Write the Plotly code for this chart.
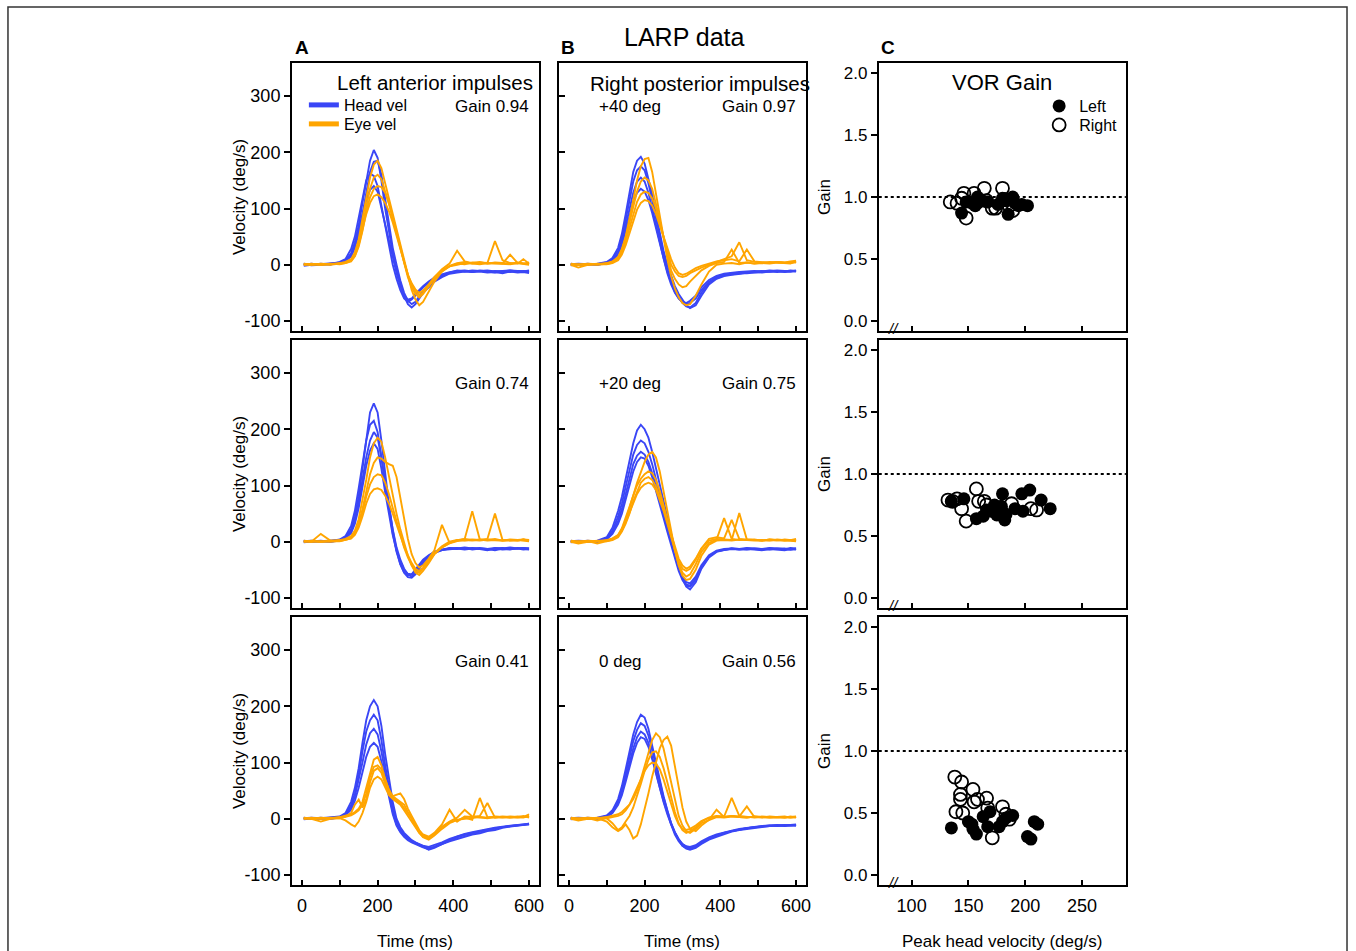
import plotly.graph_objects as go

# ---------------- data ----------------
TIME_MS = [5, 25, 50, 75, 100, 115, 130, 140, 150, 160, 170, 180, 190, 200, 210,
           220, 230, 240, 250, 260, 270, 280, 290, 300, 310, 320, 335, 350, 370, 390,
           410, 430, 450, 470, 490, 510, 530, 550, 570, 585, 600]

# Row 1 (Left anterior / Right posterior +40 deg)
A1_HEAD = [
    [2,0,1,2,4, 8,20,40,70,110, 150,185,204,190,150, 100,60,20,-10,-35, -55,-70,-76,-70,-60, -50,-40,-30,-22,-16, -14,-12,-13,-12,-14, -13,-15,-12,-14,-13, -15],
    [0,2,0,1,3, 6,15,30,55,90, 130,165,183,185,160, 115,70,30,0,-28, -50,-64,-70,-66,-56, -46,-36,-27,-20,-15, -12,-11,-13,-10,-12, -14,-12,-13,-11,-12, -13],
    [-2,0,2,0,5, 10,28,50,85,120, 150,162,158,140,105, 65,30,0,-25,-45, -60,-66,-62,-55,-47, -40,-32,-24,-18,-14, -10,-12,-10,-11,-13, -11,-12,-10,-12,-11, -12],
    [1,-1,0,2,3, 7,18,35,60,90, 115,133,140,130,100, 70,40,10,-15,-38, -55,-62,-60,-52,-45, -38,-30,-23,-17,-13, -11,-10,-12,-11,-10, -12,-11,-10,-11,-12, -10],
]
A1_EYE = [
    [1,0,2,1,3, 5,10,22,45,80, 120,155,178,185,172, 145,118,90,60,35, 8,-20,-45,-62,-72, -66,-48,-30,-12,-3, 0,3,2,1,3, 2,2,1,3,2, 0],
    [0,2,0,1,2, 4,8,18,38,70, 105,135,155,160,152, 132,108,82,55,28, 2,-22,-40,-52,-58, -52,-38,-22,-8,2, 25,6,3,5,2, 4,3,2,4,2, 1],
    [2,0,1,0,2, 3,6,15,32,60, 95,120,135,140,138, 128,110,85,60,32, 5,-18,-35,-48,-54, -50,-38,-25,-12,-2, 3,5,2,4,3, 42,8,3,2,10, 2],
    [0,1,0,2,1, 3,7,16,35,62, 90,110,122,125,120, 110,95,75,52,28, 3,-18,-33,-44,-50, -46,-35,-22,-10,-3, 2,1,4,3,2, 3,2,18,3,2, 4],
]
B1_HEAD = [
    [2,0,1,2,5, 12,30,55,90,130, 165,185,192,180,155, 125,90,55,25,0, -20,-38,-52,-63,-72, -77,-72,-55,-35,-25, -20,-18,-16,-15,-14, -13,-12,-13,-12,-11, -12],
    [0,1,0,1,4, 10,25,48,80,115, 148,168,175,168,145, 115,82,48,18,-8, -28,-45,-58,-68,-74, -76,-68,-50,-32,-24, -19,-17,-15,-14,-13, -14,-12,-11,-13,-12, -11],
    [-1,0,2,0,3, 8,20,40,68,100, 128,148,155,148,128, 100,70,40,12,-12, -32,-48,-60,-67,-70, -68,-60,-45,-30,-22, -18,-15,-14,-13,-12, -11,-12,-10,-11,-12, -10],
    [1,2,1,0,3, 7,18,35,60,88, 112,128,135,130,115, 92,65,38,10,-15, -35,-50,-60,-66,-68, -64,-55,-40,-27,-20, -16,-14,-13,-12,-11, -12,-10,-11,-12,-10, -11],
]
B1_EYE = [
    [1,0,2,1,3, 6,14,28,50,80, 115,150,175,188,190, 165,125,85,45,10, -20,-42,-58,-68,-72, -70,-55,-35,-12,0, 2,3,1,4,2, 3,2,4,3,5, 4],
    [0,-5,0,1,2, 5,12,26,48,75, 105,130,148,155,150, 135,108,78,45,15, -10,-25,-35,-40,-38, -30,-20,-10,-2,3, 5,27,3,4,2, 3,5,4,3,2, 6],
    [2,0,1,0,1, 4,10,22,42,66, 92,112,125,130,128, 118,100,75,48,22, 0,-12,-20,-22,-20, -15,-10,-5,0,5, 10,15,40,8,5, 4,3,5,4,3, 5],
    [0,1,0,2,1, 3,8,18,35,55, 78,98,110,115,113, 105,90,70,48,28, 10,-5,-15,-18,-16, -12,-6,-2,2,6, 8,10,6,27,6, 4,3,5,4,6, 7],
]

# Row 2 (Left anterior / Right posterior +20 deg)
A2_HEAD = [
    [2,0,1,2,3, 8,22,45,80,130, 185,230,246,230,180, 120,65,20,-15,-40, -55,-63,-64,-58,-48, -38,-28,-20,-15,-13, -12,-14,-12,-13,-15, -12,-14,-13,-12,-14, -13],
    [0,1,0,1,4, 10,28,55,95,140, 180,208,215,195,150, 100,55,15,-18,-40, -54,-60,-58,-50,-40, -32,-24,-18,-14,-12, -13,-11,-14,-12,-13, -15,-12,-14,-11,-13, -14],
    [-1,0,2,0,3, 7,18,38,70,110, 150,180,195,185,150, 105,60,22,-10,-32, -48,-58,-62,-56,-46, -36,-26,-19,-15,-12, -11,-13,-11,-12,-14, -12,-11,-13,-12,-11, -12],
    [1,2,1,0,2, 6,15,32,60,95, 135,162,175,165,130, 88,48,12,-15,-35, -50,-57,-58,-52,-43, -34,-25,-18,-14,-11, -12,-10,-12,-11,-13, -11,-12,-10,-12,-11, -12],
]
A2_EYE = [
    [1,0,14,2,3, 5,10,20,40,72, 110,150,175,185,178, 150,115,80,50,22, -2,-25,-42,-55,-59, -52,-38,-22,-10,-3, 1,3,2,4,2, 3,2,4,3,2, 1],
    [0,2,0,1,2, 4,8,16,32,58, 90,120,140,150,148, 142,138,135,115,78, 38,5,-22,-38,-46, -42,-30,-15,30,-2, 2,5,3,2,4, 3,2,3,2,4, 2],
    [2,0,1,0,1, 3,6,14,30,52, 80,102,115,120,118, 105,85,60,35,12, -10,-28,-42,-52,-55, -48,-35,-22,-10,-2, 3,5,54,4,3, 5,2,3,2,4, 3],
    [0,1,0,2,1, 3,6,12,25,45, 68,85,93,95,92, 82,68,50,30,10, -8,-24,-38,-48,-52, -46,-34,-20,-8,0, 3,2,4,3,5, 50,3,2,3,4, 2],
]
B2_HEAD = [
    [2,0,1,2,8, 25,55,80,112,145, 175,198,208,200,185, 160,130,100,70,40, 15,-15,-42,-65,-80, -85,-72,-48,-28,-18, -15,-13,-14,-13,-14, -15,-13,-14,-15,-13, -14],
    [0,1,0,1,6, 20,45,68,98,128, 155,172,180,175,160, 138,110,82,55,30, 5,-20,-45,-65,-76, -78,-66,-45,-26,-17, -14,-12,-13,-14,-12, -13,-14,-12,-13,-14, -12],
    [-1,0,2,0,5, 16,38,58,85,112, 138,153,160,155,142, 122,98,72,48,25, 2,-22,-45,-62,-72, -74,-62,-42,-24,-16, -13,-12,-13,-11,-12, -13,-11,-12,-13,-11, -12],
    [1,2,1,0,4, 14,32,50,75,100, 125,142,150,148,135, 115,92,68,42,18, -5,-30,-52,-68,-78, -80,-68,-46,-26,-17, -14,-12,-14,-12,-13, -14,-12,-13,-12,-14, -13],
]
B2_EYE = [
    [1,0,2,1,3, 6,12,22,38,58, 82,105,125,142,155, 160,150,125,90,55, 20,-15,-42,-60,-68, -66,-50,-25,-5,2, 3,2,4,3,2, 3,2,4,3,2, 1],
    [0,-3,0,1,2, 5,12,24,42,62, 82,100,112,120,125, 122,110,90,65,38, 10,-18,-40,-55,-62, -58,-40,-18,-2,4, 42,5,3,4,3, 2,4,3,2,3, 2],
    [2,0,1,-3,1, 4,10,20,35,52, 70,85,96,102,105, 102,92,75,55,32, 8,-15,-35,-48,-52, -48,-32,-12,5,8, 6,39,5,3,4, 2,3,2,4,3, 2],
    [0,1,0,2,1, 3,8,18,32,50, 72,90,105,112,115, 110,98,80,58,35, 12,-12,-30,-42,-48, -44,-30,-12,2,5, 4,3,51,4,3, 2,4,3,2,3, 5],
]

# Row 3 (Left anterior / Right posterior 0 deg)
A3_HEAD = [
    [2,0,1,2,4, 10,30,55,90,135, 175,200,211,200,165, 115,70,30,0,-15, -25,-32,-38,-42,-46, -50,-55,-52,-45,-40, -36,-32,-28,-26,-22, -20,-16,-14,-12,-11, -10],
    [0,1,0,1,3, 8,24,45,78,120, 155,175,185,175,140, 95,55,20,-5,-18, -28,-35,-40,-44,-47, -50,-52,-50,-45,-38, -32,-28,-25,-22,-19, -17,-15,-13,-11,-10, -9],
    [-1,0,2,0,3, 7,20,40,68,100, 132,152,160,150,120, 80,45,12,-10,-22, -30,-36,-40,-43,-46, -48,-50,-47,-42,-36, -31,-27,-24,-21,-18, -16,-14,-12,-11,-10, -9],
    [1,2,1,0,2, 6,16,32,55,85, 110,128,135,128,102, 70,38,8,-12,-24, -32,-38,-42,-45,-48, -51,-54,-50,-44,-38, -33,-29,-26,-23,-20, -17,-15,-13,-12,-10, -10],
]
A3_EYE = [
    [1,0,2,1,3, 5,8,12,18,30, 55,85,105,110,95, 70,50,38,32,28, 20,10,0,-12,-25, -33,-37,-30,-18,-8, -2,0,2,3,2, 4,3,2,3,2, 5],
    [0,2,0,1,2, 4,10,25,34,20, 35,65,85,90,82, 62,45,40,42,45, 35,18,5,-8,-20, -28,-32,-25,-10,16, -5,4,3,5,28, 2,3,2,4,3, 8],
    [2,0,-5,0,1, -3,-10,-14,-5,10, 30,55,70,75,70, 55,42,35,30,25, 15,5,-5,-15,-25, -32,-35,-28,-15,-6, -3,2,-2,37,3, 2,4,3,2,3, 4],
    [0,1,0,2,1, 3,6,10,15,25, 45,75,92,95,88, 70,52,40,35,30, 25,12,2,-10,-22, -30,-34,-28,-14,-5, 2,16,4,2,1, 3,2,4,3,5, 2],
]
B3_HEAD = [
    [2,0,1,2,6, 15,35,58,88,120, 150,172,185,180,160, 130,98,68,40,15, -8,-25,-38,-48,-53, -55,-52,-45,-37,-32, -27,-23,-20,-18,-16, -14,-13,-12,-13,-12, -12],
    [0,1,0,1,5, 13,32,52,80,110, 138,158,170,165,148, 122,92,64,38,14, -8,-24,-36,-45,-50, -52,-49,-42,-35,-30, -25,-22,-19,-17,-15, -14,-12,-13,-12,-11, -12],
    [-1,0,2,0,4, 11,28,46,72,100, 125,145,155,150,135, 110,82,56,32,10, -10,-25,-37,-45,-49, -50,-47,-40,-33,-28, -24,-21,-18,-16,-15, -13,-12,-11,-12,-11, -10],
    [1,2,1,0,3, 10,25,42,66,92, 116,135,145,142,128, 106,80,55,30,8, -12,-28,-40,-48,-52, -54,-50,-42,-35,-30, -25,-22,-19,-17,-15, -14,-13,-12,-11,-12, -11],
]
B3_EYE = [
    [1,0,2,1,3, 5,8,12,18,25, 35,50,70,95,120, 140,152,145,125,95, 60,30,5,-12,-22, -25,-18,-8,-2,3, 2,4,3,2,4, 3,2,3,4,2, 3],
    [0,-3,0,1,-5, -15,-22,-18,-10,-20, -35,-30,-10,15,45, 75,100,125,140,146, 130,95,55,20,-5, -18,-22,-12,-2,16, 3,5,3,2,4, 3,2,3,2,4, 2],
    [2,0,1,-3,1, -8,-20,-15,-5,5, 20,40,62,85,105, 118,120,110,90,65, 38,12,-8,-20,-25, -22,-15,-5,2,5, 4,37,5,3,2, 4,3,2,3,2, 3],
    [0,1,0,2,1, 3,5,8,15,25, 40,55,70,85,95, 100,98,88,70,48, 25,5,-10,-18,-20, -18,-12,-4,2,4, 3,5,4,22,3, 2,4,3,2,3, 4],
]

# VOR gain vs peak head velocity (panel C)
C1_LEFT_X = [144, 148, 153, 156, 158, 162, 167, 176, 180, 183, 185, 189, 191, 194, 197, 202]
C1_LEFT_Y = [0.87, 0.96, 0.95, 0.93, 1.00, 0.97, 0.96, 0.94, 0.99, 0.97, 0.86, 1.00, 0.95, 0.93, 0.94, 0.93]
C1_RIGHT_X = [134, 140, 144, 146, 148, 155, 158, 164, 166, 171, 174, 180, 182, 186, 189]
C1_RIGHT_Y = [0.96, 0.95, 0.99, 1.03, 0.83, 1.03, 0.96, 1.07, 0.97, 0.91, 0.91, 1.07, 0.98, 0.93, 0.89]

C2_LEFT_X = [135, 146, 157, 163, 166, 170, 173, 175, 179, 180, 182, 183, 191, 197, 198, 204, 214, 222]
C2_LEFT_Y = [0.78, 0.80, 0.64, 0.66, 0.71, 0.70, 0.75, 0.67, 0.74, 0.84, 0.63, 0.67, 0.72, 0.84, 0.70, 0.87, 0.79, 0.72]
C2_RIGHT_X = [132, 136, 140, 144, 148, 157, 159, 164, 166, 188, 205, 210]
C2_RIGHT_Y = [0.79, 0.78, 0.80, 0.72, 0.62, 0.88, 0.78, 0.78, 0.75, 0.76, 0.72, 0.71]

C3_LEFT_X = [135, 150, 153, 154, 157, 163, 167, 169, 177, 180, 183, 189, 202, 205, 208, 211]
C3_LEFT_Y = [0.38, 0.43, 0.41, 0.37, 0.33, 0.47, 0.39, 0.51, 0.39, 0.43, 0.46, 0.48, 0.31, 0.29, 0.43, 0.41]
C3_RIGHT_X = [138, 139, 143, 143, 144, 145, 154, 155, 158, 166, 167, 171, 180, 183, 186]
C3_RIGHT_Y = [0.79, 0.51, 0.65, 0.61, 0.75, 0.50, 0.69, 0.59, 0.61, 0.62, 0.54, 0.30, 0.55, 0.49, 0.45]

UNITY_GAIN = 1.0

# text / ticks
FIG_TITLE = "LARP data"
PANEL_LETTERS = ["A", "B", "C"]
TITLE_A = "Left anterior impulses"
TITLE_B = "Right posterior impulses"
TITLE_C = "VOR Gain"
GAIN_A = ["Gain 0.94", "Gain 0.74", "Gain 0.41"]
GAIN_B = ["Gain 0.97", "Gain 0.75", "Gain 0.56"]
PITCH_B = ["+40 deg", "+20 deg", "0 deg"]
TIME_TICKS = [0, 100, 200, 300, 400, 500, 600]
TIME_TICK_TEXT = ["0", "", "200", "", "400", "", "600"]
VEL_TICKS = [-100, 0, 100, 200, 300]
VEL_TICK_TEXT = ["-100", "0", "100", "200", "300"]
GAIN_TICKS = [0, 0.5, 1.0, 1.5, 2.0]
GAIN_TICK_TEXT = ["0.0", "0.5", "1.0", "1.5", "2.0"]
PEAK_TICKS = [100, 150, 200, 250]

# ---------------- styling / layout ----------------
W, H = 1356, 951
FONT = "Liberation Sans, Arial, Helvetica, sans-serif"
BLUE = "#3a46f6"
ORANGE = "#ffa500"


def fx(p):
    return p / W


def fy(p):
    return 1 - p / H


COL_PX = [(293, 541), (561, 809), (882, 1130)]
ROW_PX = [(63, 331), (340, 608), (617, 885)]

HEAD = [[A1_HEAD, B1_HEAD], [A2_HEAD, B2_HEAD], [A3_HEAD, B3_HEAD]]
EYE = [[A1_EYE, B1_EYE], [A2_EYE, B2_EYE], [A3_EYE, B3_EYE]]
SCAT = [(C1_LEFT_X, C1_LEFT_Y, C1_RIGHT_X, C1_RIGHT_Y),
        (C2_LEFT_X, C2_LEFT_Y, C2_RIGHT_X, C2_RIGHT_Y),
        (C3_LEFT_X, C3_LEFT_Y, C3_RIGHT_X, C3_RIGHT_Y)]

fig = go.Figure()
layout = dict(
    width=W, height=H, margin=dict(l=0, r=0, t=0, b=0),
    paper_bgcolor="white", plot_bgcolor="white",
    font=dict(family=FONT, color="black", size=18),
    showlegend=True,
)
shapes = []
annotations = []


def names(r, c):
    n = r * 3 + c + 1
    if n == 1:
        return "x", "y", "xaxis", "yaxis"
    return f"x{n}", f"y{n}", f"xaxis{n}", f"yaxis{n}"


for r in range(3):
    for c in range(3):
        xn, yn, xk, yk = names(r, c)
        base = dict(showline=True, mirror=True, linecolor="black", linewidth=1.8,
                    showgrid=False, zeroline=False, ticklen=5, tickwidth=1.5,
                    tickcolor="black", tickfont=dict(size=18, family=FONT))
        xa = dict(base, domain=[fx(COL_PX[c][0]), fx(COL_PX[c][1])], anchor=yn,
                  ticks="inside", showticklabels=(r == 2), ticklabelstandoff=3)
        ya = dict(base, domain=[fy(ROW_PX[r][1]), fy(ROW_PX[r][0])], anchor=xn)
        if c < 2:
            xa.update(range=[-26.3, 626.3], tickmode="array", tickvals=TIME_TICKS,
                      ticktext=TIME_TICK_TEXT)
            ya.update(range=[-117.8, 358.7], tickmode="array", tickvals=VEL_TICKS,
                      ticktext=VEL_TICK_TEXT, ticklen=6)
            if c == 0:
                ya.update(ticks="outside", showticklabels=True)
            else:
                ya.update(ticks="inside", showticklabels=False)
            for tr in HEAD[r][c]:
                fig.add_trace(go.Scatter(x=TIME_MS, y=tr, mode="lines",
                                         line=dict(color=BLUE, width=1.9),
                                         xaxis=xn, yaxis=yn, showlegend=False,
                                         hoverinfo="skip"))
            for tr in EYE[r][c]:
                fig.add_trace(go.Scatter(x=TIME_MS, y=tr, mode="lines",
                                         line=dict(color=ORANGE, width=1.9),
                                         xaxis=xn, yaxis=yn, showlegend=False,
                                         hoverinfo="skip"))
        else:
            xa.update(range=[71.05, 288.6], tickmode="array", tickvals=PEAK_TICKS)
            ya.update(range=[-0.0806, 2.0806], tickmode="array", tickvals=GAIN_TICKS,
                      ticktext=GAIN_TICK_TEXT, ticks="outside", ticklen=6,
                      tickfont=dict(size=17, family=FONT))
            lx, ly, rx, ry = SCAT[r]
            fig.add_trace(go.Scatter(x=lx, y=ly, mode="markers",
                                     marker=dict(color="black", size=13, symbol="circle"),
                                     xaxis=xn, yaxis=yn, showlegend=False,
                                     hoverinfo="skip"))
            fig.add_trace(go.Scatter(x=rx, y=ry, mode="markers",
                                     marker=dict(color="black", size=13, symbol="circle-open",
                                                 line=dict(width=1.8, color="black")),
                                     xaxis=xn, yaxis=yn, showlegend=False,
                                     hoverinfo="skip"))
            shapes.append(dict(type="line", xref=f"{xn} domain", yref=yn,
                               x0=0, x1=1, y0=UNITY_GAIN, y1=UNITY_GAIN,
                               line=dict(color="black", width=2, dash="dot")))
            # axis break mark
            annotations.append(dict(x=fx(897), y=fy(ROW_PX[r][1] - 3), xref="paper",
                                    yref="paper", text="<i>//</i>", showarrow=False,
                                    font=dict(size=15, family=FONT),
                                    xanchor="center", yanchor="middle"))
        layout[xk] = xa
        layout[yk] = ya

# legend-only entries (each in its own legend box for exact placement)
fig.add_trace(go.Scatter(x=[None], y=[None], mode="lines", name="Head vel",
                         line=dict(color=BLUE, width=5), legend="legend",
                         xaxis="x", yaxis="y"))
fig.add_trace(go.Scatter(x=[None], y=[None], mode="lines", name="Eye vel",
                         line=dict(color=ORANGE, width=5), legend="legend3",
                         xaxis="x", yaxis="y"))
fig.add_trace(go.Scatter(x=[None], y=[None], mode="markers", name="Left",
                         marker=dict(color="black", size=13, symbol="circle"),
                         legend="legend2", xaxis="x3", yaxis="y3"))
fig.add_trace(go.Scatter(x=[None], y=[None], mode="markers", name="Right",
                         marker=dict(color="black", size=13, symbol="circle-open",
                                     line=dict(width=1.8, color="black")),
                         legend="legend4", xaxis="x3", yaxis="y3"))


def legend_box(x, top):
    return dict(x=fx(x), y=fy(top), xanchor="left", yanchor="top",
                bgcolor="rgba(0,0,0,0)", borderwidth=0, tracegroupgap=0,
                itemwidth=30, font=dict(size=16, family=FONT))


layout["legend"] = legend_box(305, 88)
layout["legend3"] = legend_box(305, 107)
layout["legend2"] = legend_box(1043, 89)
layout["legend4"] = legend_box(1043, 108)


def txt(text, x, y, size=17, xanchor="center", bold=False, angle=0):
    annotations.append(dict(x=fx(x), y=fy(y), xref="paper", yref="paper",
                            text=f"<b>{text}</b>" if bold else text,
                            showarrow=False, xanchor=xanchor, yanchor="middle",
                            textangle=angle, font=dict(size=size, family=FONT)))


txt(FIG_TITLE, 687, 37, size=25)
txt(PANEL_LETTERS[0], 303, 47, size=19, bold=True)
txt(PANEL_LETTERS[1], 570, 47, size=19, bold=True)
txt(PANEL_LETTERS[2], 891, 47, size=19, bold=True)
txt(TITLE_A, 336, 82, size=20.5, xanchor="left")
txt(TITLE_B, 590, 83, size=20.5, xanchor="left")
txt(TITLE_C, 954, 82, size=22, xanchor="left")

ROW_TEXT_Y = [107, 384, 661]
for r in range(3):
    txt(GAIN_A[r], 455, ROW_TEXT_Y[r], size=17, xanchor="left")
    txt(GAIN_B[r], 723, ROW_TEXT_Y[r], size=17, xanchor="left")
    txt(PITCH_B[r], 599, ROW_TEXT_Y[r], size=17, xanchor="left")
    mid = (ROW_PX[r][0] + ROW_PX[r][1]) / 2
    txt("Velocity (deg/s)", 240, mid, size=17, angle=-90)
    txt("Gain", 827, mid, size=17, angle=-90)

txt("Time (ms)", 417, 941, size=17)
txt("Time (ms)", 685, 941, size=17)
txt("Peak head velocity (deg/s)", 1006, 941, size=17)

# outer figure border
shapes.append(dict(type="rect", xref="paper", yref="paper", x0=fx(8), x1=fx(1352),
                   y0=fy(7), y1=fy(965), line=dict(color="#333333", width=1.5),
                   fillcolor="rgba(0,0,0,0)", layer="below"))

layout["shapes"] = shapes
layout["annotations"] = annotations
fig.update_layout(**layout)

fig.write_html("out.html", config={"displayModeBar": False},
               post_script="document.body.style.margin='0';document.body.style.overflow='hidden';")
